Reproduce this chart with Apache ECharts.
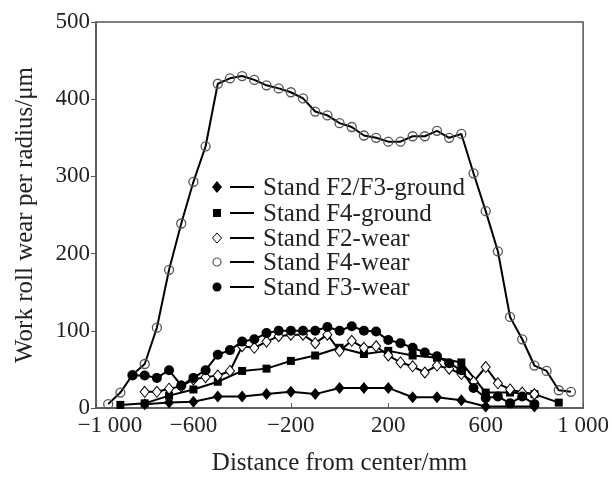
<!DOCTYPE html>
<html>
<head>
<meta charset="utf-8">
<script src="https://cdn.jsdelivr.net/npm/echarts@6/dist/echarts.min.js"></script>
<style>
html,body{margin:0;padding:0;background:#fff;}
#chart{width:612px;height:481px;}
</style>
</head>
<body>
<div id="chart"></div>
<script>
// ---- data ----
const xTickLabels = ['\u22121 000', '\u2212600', '\u2212200', '200', '600', '1 000'];
const seriesNames = ['Stand F2/F3-ground', 'Stand F4-ground', 'Stand F2-wear', 'Stand F4-wear', 'Stand F3-wear'];

const f23GroundX = [-800, -700, -600, -500, -400, -300, -200, -100, 0, 100, 200, 300, 400, 500, 600, 800];
const f23GroundY = [5, 7, 8, 15, 15, 18, 21, 18, 26, 26, 26, 14, 14, 10, 2, 2];

const f4GroundX = [-900, -800, -700, -600, -500, -400, -300, -200, -100, 0, 100, 200, 300, 400, 500, 600, 700, 800, 900];
const f4GroundY = [4, 6, 16, 24, 34, 48, 51, 61, 68, 78, 70, 74, 68, 65, 59, 20, 20, 18, 7];

const f2WearX = [-800, -750, -700, -650, -600, -550, -500, -450, -400, -350, -300, -250, -200, -150, -100, -50, 0, 50, 100, 150, 200, 250, 300, 350, 400, 450, 500, 550, 600, 650, 700, 750, 800];
const f2WearY = [21, 21, 25, 28, 37, 40, 42, 48, 80, 78, 86, 93, 95, 95, 84, 95, 74, 87, 78, 80, 68, 59, 54, 46, 55, 51, 44, 34, 53, 32, 24, 20, 18];

const f4WearX = [-950, -900, -850, -800, -750, -700, -650, -600, -550, -500, -450, -400, -350, -300, -250, -200, -150, -100, -50, 0, 50, 100, 150, 200, 250, 300, 350, 400, 450, 500, 550, 600, 650, 700, 750, 800, 850, 900, 950];
const f4WearY = [5, 20, 43, 57, 104, 179, 239, 293, 339, 420, 427, 430, 425, 418, 414, 409, 401, 384, 379, 369, 364, 353, 350, 345, 345, 352, 352, 359, 350, 355, 304, 255, 203, 118, 89, 55, 48, 23, 21];

const f3WearX = [-850, -800, -750, -700, -650, -600, -550, -500, -450, -400, -350, -300, -250, -200, -150, -100, -50, 0, 50, 100, 150, 200, 250, 300, 350, 400, 450, 500, 550, 600, 650, 700, 750, 800];
const f3WearY = [42, 42, 39, 49, 29, 39, 49, 69, 75, 86, 89, 97, 100, 100, 100, 100, 105, 100, 106, 100, 99, 88, 84, 78, 72, 67, 58, 49, 26, 13, 15, 6, 15, 5];

function zip(xs, ys) { return xs.map((x, i) => [x, ys[i]]); }

const FONT = 'Liberation Serif';
const TXT = '#222';

const chart = echarts.init(document.getElementById('chart'), null, {renderer: 'canvas'});

const lineBase = {type: 'line', lineStyle: {color: '#000', width: 2}, emphasis: {disabled: true}, animation: false};

const option = {
  backgroundColor: '#fff',
  animation: false,
  grid: {left: 96, right: 26, top: 22, bottom: 59, show: true, borderColor: '#555', borderWidth: 1.5, backgroundColor: 'transparent'},
  xAxis: {
    type: 'value', min: -1000, max: 1000, interval: 400,
    axisLine: {show: true, onZero: false, lineStyle: {color: '#555', width: 1.5}},
    axisTick: {show: true, inside: true, length: 5, lineStyle: {color: '#555'}},
    axisLabel: {fontFamily: FONT, fontSize: 23, color: TXT, margin: 6,
      formatter: (v, i) => i === 0 ? '{f|' + xTickLabels[i] + '}' : xTickLabels[i],
      rich: {f: {fontFamily: FONT, fontSize: 23, color: TXT, padding: [0, 0, 0, 28]}}},
    splitLine: {show: false},
    name: 'Distance from center/mm', nameLocation: 'middle', nameGap: 43,
    nameTextStyle: {fontFamily: FONT, fontSize: 25, color: TXT}
  },
  yAxis: {
    type: 'value', min: 0, max: 500, interval: 100,
    axisLine: {show: true, onZero: false, lineStyle: {color: '#555', width: 1.5}},
    axisTick: {show: true, inside: false, length: 5, lineStyle: {color: '#555'}},
    axisLabel: {fontFamily: FONT, fontSize: 23, color: TXT, margin: 6},
    splitLine: {show: false},
    name: 'Work roll wear per radius/\u03bcm', nameLocation: 'middle', nameGap: 58,
    nameTextStyle: {fontFamily: FONT, fontSize: 25, color: TXT}
  },
  series: [
    Object.assign({}, lineBase, {name: seriesNames[3], data: zip(f4WearX, f4WearY), symbol: 'circle', symbolSize: 9,
      itemStyle: {color: 'rgba(255,255,255,0)', borderColor: '#555', borderWidth: 1.3}, z: 2}),
    Object.assign({}, lineBase, {name: seriesNames[0], data: zip(f23GroundX, f23GroundY), symbol: 'diamond', symbolSize: [10, 12],
      itemStyle: {color: '#000', borderColor: '#000', borderWidth: 0}, z: 3}),
    Object.assign({}, lineBase, {name: seriesNames[1], data: zip(f4GroundX, f4GroundY), symbol: 'rect', symbolSize: 8,
      itemStyle: {color: '#000', borderColor: '#000', borderWidth: 0}, z: 3}),
    Object.assign({}, lineBase, {name: seriesNames[2], data: zip(f2WearX, f2WearY), symbol: 'diamond', symbolSize: [9, 11],
      itemStyle: {color: '#fff', borderColor: '#000', borderWidth: 1}, z: 4}),
    Object.assign({}, lineBase, {name: seriesNames[4], data: zip(f3WearX, f3WearY), symbol: 'circle', symbolSize: 10,
      itemStyle: {color: '#000', borderColor: '#000', borderWidth: 0}, z: 5})
  ],
  graphic: []
};

// legend drawn as graphic elements (marker, dash, label)
const legendRows = [187, 213, 238, 262, 287];
const mx = 217;
const markerEls = [
  {type: 'polygon', shape: {points: [[mx, -6], [mx + 5, 0], [mx, 6], [mx - 5, 0]]}, style: {fill: '#000'}},
  {type: 'rect', shape: {x: mx - 4, y: -4, width: 8, height: 8}, style: {fill: '#000'}},
  {type: 'polygon', shape: {points: [[mx, -5], [mx + 4.5, 0], [mx, 5], [mx - 4.5, 0]]}, style: {fill: '#fff', stroke: '#000', lineWidth: 1}},
  {type: 'circle', shape: {cx: mx, cy: 0, r: 4}, style: {fill: '#fff', stroke: '#555', lineWidth: 1.2}},
  {type: 'circle', shape: {cx: mx, cy: 0, r: 4.5}, style: {fill: '#000'}}
];
legendRows.forEach((y, i) => {
  const m = markerEls[i];
  option.graphic.push({type: 'group', x: 0, y: y, children: [
    m,
    {type: 'line', shape: {x1: 230, y1: 0, x2: 254, y2: 0}, style: {stroke: '#000', lineWidth: 2}},
    {type: 'text', x: 263, y: 1, style: {text: seriesNames[i], font: '25px "Liberation Serif"', fill: TXT, textVerticalAlign: 'middle'}}
  ]});
});

chart.setOption(option);
</script>
</body>
</html>
